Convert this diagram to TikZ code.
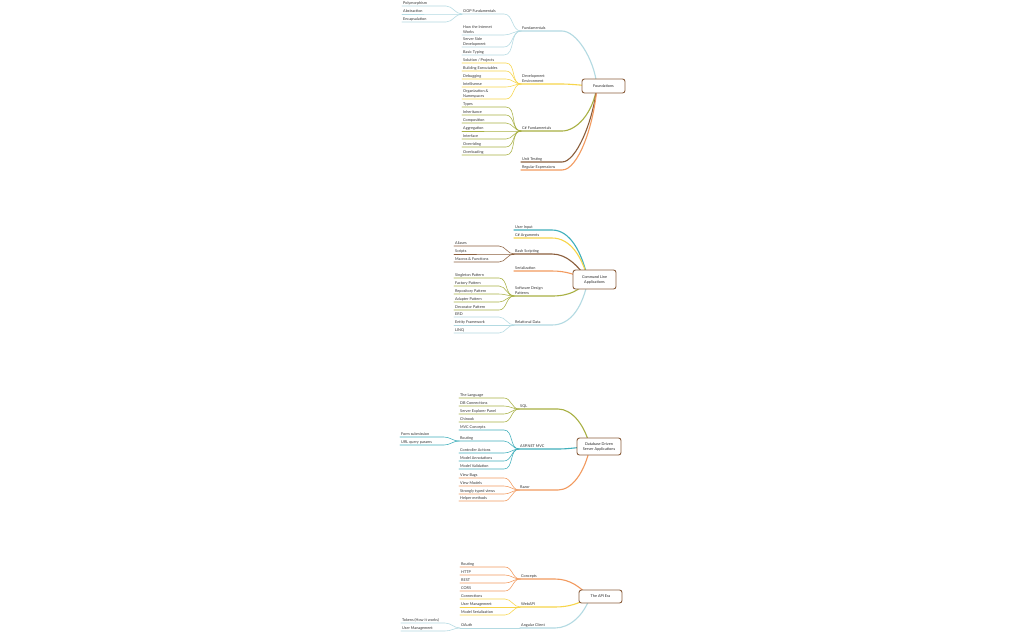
\documentclass[tikz,border=0pt]{standalone}
\usepackage{fontspec}
\setmainfont{Lato}
\pgfdeclarelayer{paper}
\pgfdeclarelayer{bg}
\pgfsetlayers{paper,bg,main}

\definecolor{cBlue}{HTML}{B3DAE2}
\definecolor{cTeal}{HTML}{3FAFBB}
\definecolor{cYel}{HTML}{F7D54A}
\definecolor{cOli}{HTML}{A8B043}
\definecolor{cBrn}{HTML}{8B5E3C}
\definecolor{cOra}{HTML}{F29A5F}

\newcommand\mapfont{\fontsize{3.8}{5}\selectfont}
% underline a label, run it to the parent's knee, then bend into the parent
\newcommand\leafto[3]{\draw[twig,#1] (#2.south west) -- (#2.south west -| k#3) to[out=0,in=180] (#3.south west);}

\tikzset{
  lbl/.style={anchor=south west, inner xsep=1pt, inner ysep=0.9pt, font=\mapfont, align=left, text=black!80},
  twig/.style={line width=0.55pt, line cap=round},
  trunk/.style={line width=1.1pt, line cap=round},
  hub/.style={draw=cBrn, line width=0.9pt, rounded corners=2.5pt, fill=white, font=\mapfont, align=center, inner sep=0pt, text=black!85}
}

\begin{document}
\begin{tikzpicture}[x=1pt,y=-1pt]
\useasboundingbox (0,0) rectangle (1024,633);
\begin{pgfonlayer}{paper}
\fill[white] (0,0) rectangle (1024,633);
\end{pgfonlayer}

% ---------------- Foundations ----------------
\node[hub, minimum width=43pt, minimum height=14pt] (found) at (603.5,86) {Foundations};
\coordinate (fj) at (597,86);
\coordinate (kfound) at (562,86);

\node[lbl] (fund) at (521,31) {Fundamentals};
\node[lbl] (dev) at (521,84) {Development\\Environment};
\node[lbl] (csf) at (521,131) {C\# Fundamentals};
\node[lbl] (unit) at (521,162) {Unit Testing};
\node[lbl] (regex) at (521,170) {Regular Expressions};

\node[lbl] (oop) at (462,14) {OOP Fundamentals};
\node[lbl] (how) at (462,35) {How the Internet\\Works};
\node[lbl] (ssd) at (462,47) {Server Side\\Development};
\node[lbl] (typing) at (462,55) {Basic Typing};

\node[lbl] (poly) at (402,6) {Polymorphism};
\node[lbl] (abstr) at (402,14) {Abstraction};
\node[lbl] (encap) at (402,22) {Encapsulation};

\node[lbl] (sol) at (462,63) {Solution / Projects};
\node[lbl] (build) at (462,71) {Building Executables};
\node[lbl] (debug) at (462,79) {Debugging};
\node[lbl] (intel) at (462,87) {Intellisense};
\node[lbl] (org) at (462,99) {Organization \&\\Namespaces};

\node[lbl] (types) at (462,107) {Types};
\node[lbl] (inher) at (462,115) {Inheritance};
\node[lbl] (compo) at (462,123) {Composition};
\node[lbl] (aggr) at (462,131) {Aggregation};
\node[lbl] (iface) at (462,139) {Interface};
\node[lbl] (overr) at (462,147) {Overriding};
\node[lbl] (overl) at (462,155) {Overloading};

\coordinate (kfund) at ([xshift=-17pt]fund.south west);
\coordinate (kdev) at ([xshift=-15pt]dev.south west);
\coordinate (kcsf) at ([xshift=-15pt]csf.south west);
\coordinate (koop) at ([xshift=-16pt]oop.south west);

% ---------------- Command Line Applications ----------------
\node[hub, minimum width=43pt, minimum height=19pt] (cla) at (594.5,279.5) {Command Line\\Applications};
\coordinate (cj) at (588,280);
\coordinate (kcla) at (552,280);

\node[lbl] (ui) at (514,230) {User Input};
\node[lbl] (args) at (514,238) {C\# Arguments};
\node[lbl] (bash) at (514,254) {Bash Scripting};
\node[lbl] (ser) at (514,271) {Serialization};
\node[lbl] (sdp) at (514,296) {Software Design\\Patterns};
\node[lbl] (rel) at (514,325) {Relational Data};

\node[lbl] (aliases) at (454,246) {Aliases};
\node[lbl] (scripts) at (454,254) {Scripts};
\node[lbl] (macros) at (454,262) {Macros \& Functions};

\node[lbl] (single) at (454,278) {Singleton Pattern};
\node[lbl] (factory) at (454,286) {Factory Pattern};
\node[lbl] (repo) at (454,294) {Repository Pattern};
\node[lbl] (adapt) at (454,302) {Adapter Pattern};
\node[lbl] (decor) at (454,310) {Decorator Pattern};

\node[lbl] (erd) at (454,317) {ERD};
\node[lbl] (ef) at (454,325) {Entity Framework};
\node[lbl] (linq) at (454,333) {LINQ};

\coordinate (kbash) at ([xshift=-15pt]bash.south west);
\coordinate (ksdp) at ([xshift=-15pt]sdp.south west);
\coordinate (krel) at ([xshift=-15pt]rel.south west);

% ---------------- Database Driven Server Applications ----------------
\node[hub, minimum width=44pt, minimum height=17pt] (db) at (599,446.5) {Database Driven\\Server Applications};
\coordinate (dj) at (590,447);
\coordinate (kdb) at (558,447);

\node[lbl] (sql) at (519,409) {SQL};
\node[lbl] (mvc) at (519,449) {ASP.NET MVC};
\node[lbl] (razor) at (519,490) {Razor};

\node[lbl] (lang) at (459,398) {The Language};
\node[lbl] (dbc) at (459,406) {DB Connections};
\node[lbl] (sep) at (459,414) {Server Explorer Panel};
\node[lbl] (chin) at (459,422) {Chinook};

\node[lbl] (mvcc) at (459,430) {MVC Concepts};
\node[lbl] (rout) at (459,441) {Routing};
\node[lbl] (ctrl) at (459,453) {Controller Actions};
\node[lbl] (annot) at (459,461) {Model Annotations};
\node[lbl] (valid) at (459,469) {Model Validation};

\node[lbl] (form) at (400,437) {Form submission};
\node[lbl] (urlq) at (400,445) {URL query params};

\node[lbl] (vbag) at (459,478) {View Bags};
\node[lbl] (vmod) at (459,486) {View Models};
\node[lbl] (styp) at (459,494) {Strongly typed views};
\node[lbl] (help) at (459,501) {Helper methods};

\coordinate (ksql) at ([xshift=-15pt]sql.south west);
\coordinate (kmvc) at ([xshift=-15pt]mvc.south west);
\coordinate (krazor) at ([xshift=-15pt]razor.south west);
\coordinate (krout) at ([xshift=-15pt]rout.south west);

% ---------------- The API Era ----------------
\node[hub, minimum width=43pt, minimum height=13pt] (api) at (600.5,596.5) {The API Era};
\coordinate (aj) at (590,597);
\coordinate (kapi) at (555,597);

\node[lbl] (conc) at (520,579) {Concepts};
\node[lbl] (wapi) at (520,607) {WebAPI};
\node[lbl] (ang) at (520,628) {Angular Client};

\node[lbl] (aroute) at (460,567) {Routing};
\node[lbl] (http) at (460,575) {HTTP};
\node[lbl] (rest) at (460,583) {REST};
\node[lbl] (cors) at (460,591) {CORS};

\node[lbl] (conn) at (460,599) {Connections};
\node[lbl] (uman) at (460,607) {User Management};
\node[lbl] (mser) at (460,615) {Model Serialization};

\node[lbl] (oauth) at (460,628) {OAuth};

\node[lbl] (tok) at (401,623) {Tokens (How it works)};
\node[lbl] (umantwo) at (401,631) {User Management};

\coordinate (kconc) at ([xshift=-15pt]conc.south west);
\coordinate (kwapi) at ([xshift=-15pt]wapi.south west);
\coordinate (kang) at ([xshift=-15pt]ang.south west);
\coordinate (koauth) at ([xshift=-15pt]oauth.south west);

% ---------------- connectors ----------------
\begin{pgfonlayer}{bg}
% Foundations
\draw[trunk,cBlue] (fund.south west) -- (fund.south west -| kfound) .. controls +(14,0) and +(-3,-28) .. (fj);
\draw[trunk,cYel] (dev.south west) -- (dev.south west -| kfound) .. controls +(10,0) and +(-10,0) .. (fj);
\draw[trunk,cOli] (csf.south west) -- (csf.south west -| kfound) .. controls +(14,0) and +(-4,28) .. (fj);
\draw[trunk,cBrn] (unit.south west) -- (unit.south west -| kfound) .. controls +(14,0) and +(-4,36) .. (fj);
\draw[trunk,cOra] (regex.south west) -- (regex.south west -| kfound) .. controls +(16,0) and +(-3,40) .. (fj);

\leafto{cBlue}{oop}{fund}
\leafto{cBlue}{how}{fund}
\leafto{cBlue}{ssd}{fund}
\leafto{cBlue}{typing}{fund}
\leafto{cBlue}{poly}{oop}
\leafto{cBlue}{abstr}{oop}
\leafto{cBlue}{encap}{oop}

\leafto{cYel}{sol}{dev}
\leafto{cYel}{build}{dev}
\leafto{cYel}{debug}{dev}
\leafto{cYel}{intel}{dev}
\leafto{cYel}{org}{dev}

\leafto{cOli}{types}{csf}
\leafto{cOli}{inher}{csf}
\leafto{cOli}{compo}{csf}
\leafto{cOli}{aggr}{csf}
\leafto{cOli}{iface}{csf}
\leafto{cOli}{overr}{csf}
\leafto{cOli}{overl}{csf}

% Command Line Applications
\draw[trunk,cTeal] (ui.south west) -- (ui.south west -| kcla) .. controls +(18,0) and +(-6,-28) .. (cj);
\draw[trunk,cYel] (args.south west) -- (args.south west -| kcla) .. controls +(18,0) and +(-6,-24) .. (cj);
\draw[trunk,cBrn] (bash.south west) -- (bash.south west -| kcla) .. controls +(15,0) and +(-10,-14) .. (cj);
\draw[trunk,cOra] (ser.south west) -- (ser.south west -| kcla) .. controls +(15,0) and +(-12,-5) .. (cj);
\draw[trunk,cOli] (sdp.south west) -- (sdp.south west -| kcla) .. controls +(18,0) and +(-8,10) .. (cj);
\draw[trunk,cBlue] (rel.south west) -- (rel.south west -| kcla) .. controls +(20,0) and +(-5,25) .. (cj);

\leafto{cBrn}{aliases}{bash}
\leafto{cBrn}{scripts}{bash}
\leafto{cBrn}{macros}{bash}
\leafto{cOli}{single}{sdp}
\leafto{cOli}{factory}{sdp}
\leafto{cOli}{repo}{sdp}
\leafto{cOli}{adapt}{sdp}
\leafto{cOli}{decor}{sdp}
\leafto{cBlue}{erd}{rel}
\leafto{cBlue}{ef}{rel}
\leafto{cBlue}{linq}{rel}

% Database Driven Server Applications
\draw[trunk,cOli] (sql.south west) -- (sql.south west -| kdb) .. controls +(14,0) and +(-5,-22) .. (dj);
\draw[trunk,cTeal] (mvc.south west) -- (mvc.south west -| kdb) .. controls +(12,0) and +(-12,0) .. (dj);
\draw[trunk,cOra] (razor.south west) -- (razor.south west -| kdb) .. controls +(14,0) and +(-5,25) .. (dj);

\leafto{cOli}{lang}{sql}
\leafto{cOli}{dbc}{sql}
\leafto{cOli}{sep}{sql}
\leafto{cOli}{chin}{sql}
\leafto{cTeal}{mvcc}{mvc}
\leafto{cTeal}{rout}{mvc}
\leafto{cTeal}{ctrl}{mvc}
\leafto{cTeal}{annot}{mvc}
\leafto{cTeal}{valid}{mvc}
\leafto{cTeal}{form}{rout}
\leafto{cTeal}{urlq}{rout}
\leafto{cOra}{vbag}{razor}
\leafto{cOra}{vmod}{razor}
\leafto{cOra}{styp}{razor}
\leafto{cOra}{help}{razor}

% The API Era
\draw[trunk,cOra] (conc.south west) -- (conc.south west -| kapi) .. controls +(15,0) and +(-10,-10) .. (aj);
\draw[trunk,cYel] (wapi.south west) -- (wapi.south west -| kapi) .. controls +(15,0) and +(-10,6) .. (aj);
\draw[trunk,cBlue] (ang.south west) -- (ang.south west -| kapi) .. controls +(15,0) and +(-6,18) .. (aj);

\leafto{cOra}{aroute}{conc}
\leafto{cOra}{http}{conc}
\leafto{cOra}{rest}{conc}
\leafto{cOra}{cors}{conc}
\leafto{cYel}{conn}{wapi}
\leafto{cYel}{uman}{wapi}
\leafto{cYel}{mser}{wapi}
\leafto{cBlue}{oauth}{ang}
\leafto{cBlue}{tok}{oauth}
\leafto{cBlue}{umantwo}{oauth}
\end{pgfonlayer}
\end{tikzpicture}
\end{document}
